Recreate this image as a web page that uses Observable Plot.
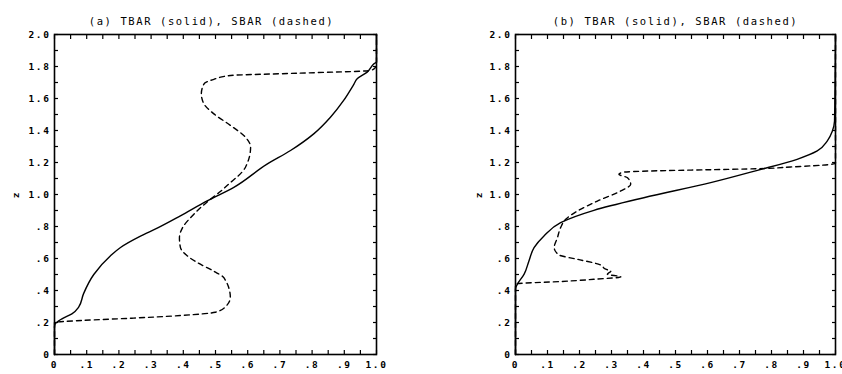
<!DOCTYPE html>
<html><head><meta charset="utf-8">
<script src="https://cdn.jsdelivr.net/npm/d3@7"></script>
<script src="https://cdn.jsdelivr.net/npm/@observablehq/plot@0.6"></script>
<style>
body{margin:0;background:#fff;}
#wrap{display:flex;width:842px;height:374px;overflow:hidden;}
#wrap svg{overflow:visible;}
</style></head><body><div id="wrap"></div>
<script>
// Panel (a)
const aZ_T = [0, 0.17, 0.19, 0.223, 0.254, 0.296, 0.379, 0.5, 0.617, 0.669, 0.74, 0.79, 0.867, 0.96, 1.045, 1.19, 1.275, 1.379, 1.483, 1.588, 1.69, 1.723, 1.765, 1.817, 1.83, 2.0];
const aT   = [0, 0, 0.002, 0.023, 0.054, 0.075, 0.09, 0.122, 0.174, 0.205, 0.267, 0.319, 0.391, 0.474, 0.557, 0.66, 0.733, 0.805, 0.857, 0.898, 0.93, 0.94, 0.971, 0.992, 1.0, 1.0];
const aZ_S = [0, 0.2, 0.2125, 0.227, 0.244, 0.264, 0.296, 0.358, 0.48, 0.52, 0.575, 0.617, 0.669, 0.73, 0.79, 0.877, 0.97, 1.02, 1.056, 1.17, 1.296, 1.358, 1.431, 1.504, 1.567, 1.629, 1.69, 1.72, 1.744, 1.758, 1.775, 1.79, 1.81, 2.0];
const aS   = [0, 0, 0.085, 0.24, 0.395, 0.499, 0.53, 0.546, 0.526, 0.495, 0.443, 0.412, 0.391, 0.388, 0.397, 0.433, 0.484, 0.516, 0.536, 0.593, 0.609, 0.593, 0.547, 0.495, 0.464, 0.456, 0.464, 0.495, 0.547, 0.754, 0.981, 0.995, 1.0, 1.0];
// Panel (b)
const bZ_T = [0, 0.41, 0.44, 0.502, 0.585, 0.668, 0.741, 0.824, 0.901, 0.98, 1.074, 1.151, 1.22, 1.272, 1.334, 1.396, 1.459, 2.0];
const bT   = [0, 0, 0.006, 0.027, 0.042, 0.058, 0.089, 0.141, 0.245, 0.401, 0.61, 0.756, 0.88, 0.943, 0.974, 0.99, 0.997, 1.0];
const bZ_S = [0, 0.437, 0.443, 0.456, 0.47, 0.485, 0.502, 0.522, 0.533, 0.56, 0.595, 0.622, 0.668, 0.73, 0.793, 0.845, 0.897, 0.959, 1.022, 1.064, 1.105, 1.126, 1.14, 1.147, 1.155, 1.161, 1.172, 1.188, 1.195, 2.0];
const bS   = [0, 0, 0.006, 0.141, 0.245, 0.329, 0.287, 0.298, 0.282, 0.266, 0.194, 0.136, 0.121, 0.131, 0.141, 0.157, 0.194, 0.256, 0.329, 0.36, 0.35, 0.323, 0.339, 0.422, 0.61, 0.756, 0.86, 0.984, 1.0, 1.0];

const titleA = "(a) TBAR (solid), SBAR (dashed)";
const titleB = "(b) TBAR (solid), SBAR (dashed)";
const zLabel = "z";

const xTickValues = [0, 0.1, 0.2, 0.3, 0.4, 0.5, 0.6, 0.7, 0.8, 0.9, 1.0];
const xTickLabels = ["0", ".1", ".2", ".3", ".4", ".5", ".6", ".7", ".8", ".9", "1.0"];
const zTickValues = [0, 0.2, 0.4, 0.6, 0.8, 1.0, 1.2, 1.4, 1.6, 1.8, 2.0];
const zTickLabels = ["0", ".2", ".4", ".6", ".8", "1.0", "1.2", "1.4", "1.6", "1.8", "2.0"];
const xMinorTicks = [0, 0.05, 0.1, 0.15, 0.2, 0.25, 0.3, 0.35, 0.4, 0.45, 0.5, 0.55, 0.6, 0.65, 0.7, 0.75, 0.8, 0.85, 0.9, 0.95, 1.0];
const zMinorTicks = [0, 0.1, 0.2, 0.3, 0.4, 0.5, 0.6, 0.7, 0.8, 0.9, 1.0, 1.1, 1.2, 1.3, 1.4, 1.5, 1.6, 1.7, 1.8, 1.9, 2.0];

function toRows(xs, zs) { return xs.map((x, i) => ({x, z: zs[i]})); }

function panel({T, ZT, S, ZS, title, marginLeft, marginRight, labelOffset, titleDx}) {
  const tFmtX = d => xTickLabels[xTickValues.indexOf(d)] ?? "";
  const tFmtZ = d => zTickLabels[zTickValues.indexOf(d)] ?? "";
  const tick = {tickSize: -4, tickFormat: () => "", label: null, strokeWidth: 1.2};
  return Plot.plot({
    width: 421, height: 374,
    marginLeft, marginRight, marginTop: 34, marginBottom: 20,
    x: {domain: [0, 1]},
    y: {domain: [0, 2]},
    style: {fontFamily: "DejaVu Sans Mono", fontSize: "9.5px", fontWeight: "bold", letterSpacing: "1.6px", color: "#000", background: "#fff", overflow: "visible"},
    marks: [
      Plot.line(toRows(T, ZT), {x: "x", y: "z", curve: "monotone-y", stroke: "#000", strokeWidth: 1.4}),
      Plot.line(toRows(S, ZS), {x: "x", y: "z", curve: "monotone-y", stroke: "#000", strokeWidth: 1.4, strokeDasharray: "5,4"}),
      Plot.frame({stroke: "#000", strokeWidth: 1.6}),
      Plot.axisX({anchor: "bottom", ticks: xMinorTicks, ...tick}),
      Plot.axisX({anchor: "top", ticks: xMinorTicks, ...tick}),
      Plot.axisY({anchor: "left", ticks: zMinorTicks, ...tick}),
      Plot.axisY({anchor: "right", ticks: zMinorTicks, ...tick}),
      Plot.axisX({anchor: "bottom", ticks: xTickValues, tickFormat: tFmtX, tickSize: 0, tickPadding: 7, label: null}),
      Plot.axisY({anchor: "left", ticks: zTickValues, tickFormat: tFmtZ, tickSize: 0, tickPadding: 4, label: zLabel, labelAnchor: "center", labelArrow: "none", labelOffset}),
      Plot.text([title], {text: d => d, frameAnchor: "top", dy: -17, dx: titleDx, fontSize: 10.5, fontWeight: "normal", letterSpacing: "2.4px"})
    ]
  });
}

const wrap = document.getElementById("wrap");
wrap.appendChild(panel({T: aT, ZT: aZ_T, S: aS, ZS: aZ_S, title: titleA, marginLeft: 54, marginRight: 45, labelOffset: 42, titleDx: -4}));
wrap.appendChild(panel({T: bT, ZT: bZ_T, S: bS, ZS: bZ_S, title: titleB, marginLeft: 94, marginRight: 7, labelOffset: 40, titleDx: 0}));
</script></body></html>
